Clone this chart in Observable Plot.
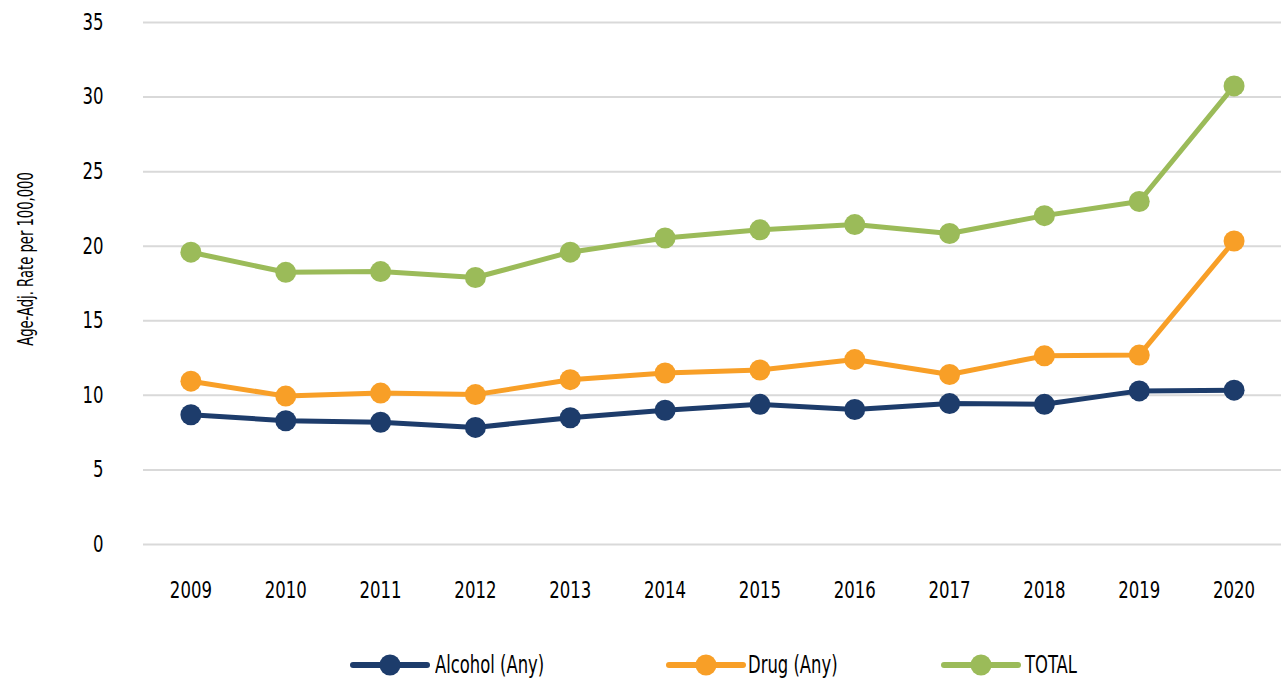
<!DOCTYPE html>
<html>
<head>
<meta charset="utf-8">
<script src="https://cdn.jsdelivr.net/npm/d3@7"></script>
<script src="https://cdn.jsdelivr.net/npm/@observablehq/plot@0.6"></script>
<style>
  html, body { margin: 0; padding: 0; background: #fff; }
  body { width: 1282px; height: 682px; overflow: hidden; font-family: "DejaVu Sans Condensed", "DejaVu Sans", sans-serif; font-stretch: condensed; }
  #legend { position: relative; width: 1282px; height: 42px; }
  .sw { position: absolute; top: 13px; }
  .lab { position: absolute; top: 11px; height: 28px; line-height: 28px; font-size: 24px; color: #000; white-space: nowrap; transform: scaleX(0.76); transform-origin: left center; }
</style>
</head>
<body>
<div id="chart"></div>
<div id="legend"></div>
<script>
const years = ["2009","2010","2011","2012","2013","2014","2015","2016","2017","2018","2019","2020"];
const alcohol = [8.7, 8.3, 8.2, 7.85, 8.5, 9.0, 9.4, 9.05, 9.45, 9.4, 10.3, 10.35];
const drug = [10.95, 9.95, 10.15, 10.05, 11.05, 11.5, 11.7, 12.4, 11.4, 12.65, 12.7, 20.35];
const total = [19.6, 18.25, 18.3, 17.9, 19.6, 20.55, 21.1, 21.45, 20.85, 22.05, 23.0, 30.75];
const seriesNames = ["Alcohol (Any)", "Drug (Any)", "TOTAL"];
const seriesColors = ["#1d3c6b", "#f89f27", "#9bbb59"];
const yTicks = [0, 5, 10, 15, 20, 25, 30, 35];
const yLabel = "Age-Adj. Rate per 100,000";

const seriesValues = [alcohol, drug, total];
const data = [];
seriesNames.forEach((s, i) => years.forEach((yr, j) => data.push({series: s, year: yr, value: seriesValues[i][j]})));

const font = '"DejaVu Sans Condensed", "DejaVu Sans", sans-serif';

const chart = Plot.plot({
  width: 1282,
  height: 640,
  marginTop: 22,
  marginBottom: 96,
  marginLeft: 143,
  marginRight: 1,
  style: {fontFamily: font, fontSize: "23px", color: "#000", background: "#fff"},
  x: {type: "point", domain: years, padding: 0.5, round: false, label: null},
  y: {domain: [0, 35], label: null},
  color: {domain: seriesNames, range: seriesColors},
  marks: [
    Plot.ruleY(yTicks, {stroke: "#d9d9d9", strokeWidth: 2}),
    Plot.axisY({ticks: yTicks, tickSize: 0, tickPadding: 40, label: null, fontSize: 23}),
    Plot.axisX({tickSize: 0, tickPadding: 37, label: null, fontSize: 23}),
    Plot.line(data, {x: "year", y: "value", z: "series", stroke: "series", strokeWidth: 5, strokeLinejoin: "round"}),
    Plot.dot(data, {x: "year", y: "value", fill: "series", r: 10.5, stroke: null}),
    Plot.text([yLabel], {frameAnchor: "left", textAnchor: "middle", dx: -118, dy: -24.5, rotate: -90, fontSize: 22, fill: "#000"})
  ]
});

// condense the text horizontally to mimic the narrow typeface of the original
chart.querySelectorAll('g[aria-label="y-axis tick label"] text, g[aria-label="x-axis tick label"] text').forEach(t => {
  const tr = t.getAttribute("transform") || "";
  t.setAttribute("transform", tr + " scale(0.8,1)");
});
chart.querySelectorAll('g[aria-label="text"] text').forEach(t => {
  const tr = t.getAttribute("transform") || "";
  t.setAttribute("transform", tr + " scale(0.665,1)");
});
document.getElementById("chart").appendChild(chart);

const legend = document.getElementById("legend");
const swatchLeft = [350, 666, 941];
const labelLeft = [435, 748, 1025];
seriesNames.forEach((name, i) => {
  const sw = document.createElement("div");
  sw.className = "sw";
  sw.style.left = swatchLeft[i] + "px";
  sw.innerHTML = `<svg width="80" height="24" style="display:block"><line x1="3" y1="12" x2="77" y2="12" stroke="${seriesColors[i]}" stroke-width="6" stroke-linecap="round"/><circle cx="40" cy="12" r="10.5" fill="${seriesColors[i]}"/></svg>`;
  legend.appendChild(sw);
  const lab = document.createElement("div");
  lab.className = "lab";
  lab.style.left = labelLeft[i] + "px";
  lab.textContent = name;
  legend.appendChild(lab);
});
</script>
</body>
</html>
